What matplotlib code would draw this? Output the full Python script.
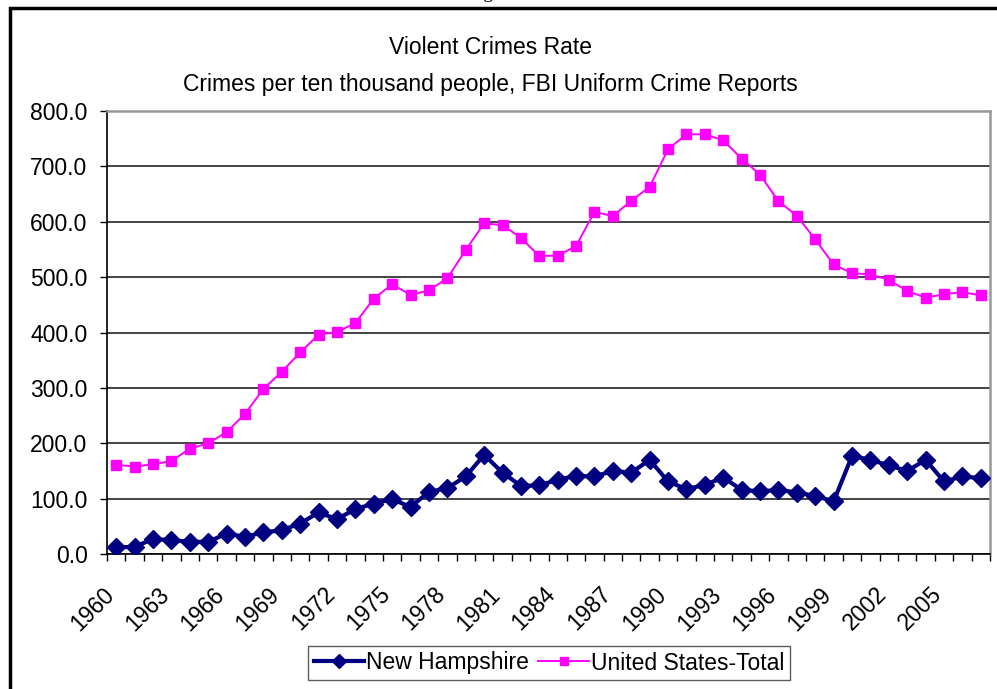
import numpy as np
import matplotlib.pyplot as plt
from matplotlib.patches import Rectangle
from matplotlib.ticker import FixedLocator

plt.rcParams['font.family'] = ['Liberation Sans', 'DejaVu Sans']

years = list(range(1960, 2008))

# violent crimes rate, FBI UCR
new_hampshire = [12, 13, 27, 25, 22, 22, 37, 31, 39, 43, 55, 75, 63, 81, 91, 99,
                 85, 112, 119, 140, 179, 147, 123, 124, 134, 141, 140, 150, 147, 170,
                 131, 117, 125, 138, 116, 113, 116, 111, 105, 95, 177, 170, 160, 150,
                 170, 131, 140, 137]
us_total = [161, 158, 162, 168, 190, 200, 220, 253, 298, 329, 364, 396, 401, 417, 461, 487,
            468, 476, 498, 549, 597, 594, 571, 538, 539, 556, 618, 610, 638, 663,
            731, 758, 758, 747, 714, 685, 637, 611, 568, 523, 507, 505, 495, 475,
            463, 469, 473, 467]

x = np.arange(len(years))
fs = 16.5

fig = plt.figure(figsize=(9.97, 6.89), dpi=100)
ax = fig.add_axes([107/997, 1 - 554/689, (990 - 107)/997, (554 - 111)/689])

ax.plot(x, new_hampshire, color='#000080', lw=3, marker='D', ms=9.5,
        mec='#000080', mfc='#000080', label='New Hampshire', zorder=3)
ax.plot(x, us_total, color='#FF00FF', lw=1.4, marker='s', ms=7,
        mec='#FF00FF', mfc='#FF00FF', label='United States-Total', zorder=4)

ax.set_xlim(-0.5, len(years) - 0.5)
ax.set_ylim(0, 800)
ax.set_yticks(np.arange(0, 801, 100))
ax.set_yticklabels([f'{v:.1f}' for v in np.arange(0, 801, 100)], fontsize=fs)
ax.yaxis.grid(True, color='#222222', lw=1.2)
ax.set_axisbelow(True)

# ticks between categories, labels every third year
ax.xaxis.set_major_locator(FixedLocator(np.arange(-0.5, len(years), 1)))
ax.set_xticklabels([])
for i in range(0, len(years), 3):
    ax.text(x[i] - 0.75, -0.065, str(years[i]), transform=ax.get_xaxis_transform(),
            rotation=45, ha='right', va='top', rotation_mode='anchor', fontsize=fs)

ax.tick_params(axis='both', direction='out', length=5, width=1, color='black')
ax.tick_params(axis='y', pad=9)
for s in ['left', 'bottom']:
    ax.spines[s].set_color('black')
    ax.spines[s].set_linewidth(1.2)
for s in ['top', 'right']:
    ax.spines[s].set_color('#999999')
    ax.spines[s].set_linewidth(1.8)

fig.text(490/997, 1 - 47/689, 'Violent Crimes Rate', ha='center', va='center', fontsize=fs)
fig.text(490/997, 1 - 85/689, 'Crimes per ten thousand people, FBI Uniform Crime Reports',
         ha='center', va='center', fontsize=fs)

leg = fig.legend(loc='center', bbox_to_anchor=(549/997, 1 - 663/689), ncol=2,
                 fontsize=fs, frameon=True, fancybox=False, handlelength=2.2,
                 handletextpad=0.1, columnspacing=0.4, borderpad=0.25,
                 edgecolor='#333333', markerscale=0.8)
leg.get_frame().set_linewidth(1)

# outer frame of the chart object
fig.patches.append(Rectangle((10/997, -0.05), 1.1, 1.05 - 8/689,
                             transform=fig.transFigure, fill=False, lw=2.5,
                             edgecolor='black'))
fig.text(500/997, 1 + 6/689, 'Figure 5', ha='center', va='center',
         fontsize=14, family='Liberation Serif')

fig.savefig('out.png', dpi=100)
